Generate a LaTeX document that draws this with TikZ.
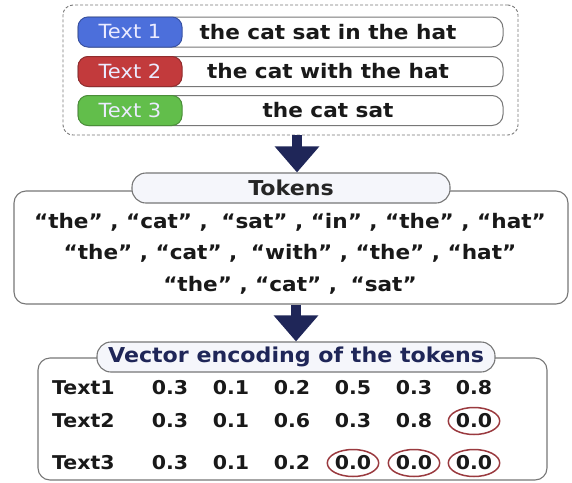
\documentclass[tikz,border=0pt]{standalone}
\usepackage{fontspec}
\setmainfont[FakeStretch=1.08]{DejaVu Sans}
\usetikzlibrary{arrows.meta,shapes.geometric}
\definecolor{navy}{HTML}{1F2658}
\definecolor{lblue}{HTML}{4C6FDB}
\definecolor{lred}{HTML}{C23A3C}
\definecolor{lgreen}{HTML}{62BE4B}
\definecolor{edgec}{HTML}{777777}
\definecolor{circc}{HTML}{9A3A3F}
\definecolor{pillfill}{HTML}{F5F6FB}
\tikzset{
  rowpill/.style={draw=edgec, line width=1pt, fill=white, rounded corners=11pt, minimum width=425pt, minimum height=30pt, inner sep=0pt},
  lab/.style={line width=1pt, rounded corners=10pt, minimum width=104pt, minimum height=30pt, inner sep=0pt, text=white!92!blue, font=\fontsize{19.5}{22}\selectfont},
  rowtxt/.style={font=\fontsize{20}{24}\selectfont\bfseries, text=black!90, inner sep=0pt},
  bigbox/.style={draw=edgec, line width=1.1pt, fill=white, rounded corners=12pt, inner sep=0pt},
  headpill/.style={draw=edgec, line width=1.1pt, fill=pillfill, rounded corners=14pt, minimum height=30pt, inner sep=0pt, text=navy, font=\fontsize{20.5}{24}\selectfont\bfseries},
  tokline/.style={font=\fontsize{20}{24}\selectfont\bfseries, text=black!90, inner sep=0pt},
  cell/.style={font=\fontsize{19}{22}\selectfont\bfseries, text=black!90, inner sep=0pt},
  zero/.style={cell, ellipse, draw=circc, line width=1.5pt, minimum width=51pt, minimum height=27pt},
  bigarrow/.style={draw=navy, line width=10pt, -{Triangle[width=43pt,length=26pt]}}
}
\begin{document}
\begin{tikzpicture}[x=1pt,y=-1pt]
\useasboundingbox (0,0) rectangle (572,482);
% top dashed group
\node[draw=edgec, line width=0.9pt, dash pattern=on 3pt off 2pt, rounded corners=10pt, minimum width=455pt, minimum height=130pt, inner sep=0pt] (top) at (290.5,70) {};
\node[rowpill] (p1) at (290.5,32) {};
\node[rowpill] (p2) at (290.5,71.5) {};
\node[rowpill] (p3) at (290.5,110.5) {};
\node[lab, fill=lblue, draw=lblue!75!black] (l1) at (130,32) {Text 1};
\node[lab, fill=lred, draw=lred!75!black] (l2) at (130,71.5) {Text 2};
\node[lab, fill=lgreen, draw=lgreen!75!black] (l3) at (130,110.5) {Text 3};
\node[rowtxt] (t1) at (328,32) {the cat sat in the hat};
\node[rowtxt] (t2) at (328,71.5) {the cat with the hat};
\node[rowtxt] (t3) at (328,110.5) {the cat sat};
% tokens
\node[bigbox, minimum width=554pt, minimum height=113pt] (tokbox) at (291,247.5) {};
\node[headpill, minimum width=318pt, text=black!85] (tokpill) at (291,188) {Tokens};
\node[tokline] (k1) at (290,222) {“the” , “cat” ,\hspace{6pt} “sat” , “in” , “the” , “hat”};
\node[tokline] (k2) at (290,253) {“the” , “cat” ,\hspace{6pt} “with” , “the” , “hat”};
\node[tokline] (k3) at (290,285) {“the” , “cat” ,\hspace{6pt} “sat”};
\draw[bigarrow] ([xshift=6.5pt]top.south) -- ([xshift=6.5pt]top.south |- tokpill.north);
% vector encoding
\node[bigbox, minimum width=509pt, minimum height=122pt] (vecbox) at (292.5,419) {};
\node[headpill, minimum width=398pt] (vecpill) at (296,357) {Vector encoding of the tokens};
\draw[bigarrow] ([xshift=5pt]tokbox.south) -- ([xshift=5pt]tokbox.south |- vecpill.north);
% rows
\node[cell, anchor=west] (r1) at (52,388) {Text1};
\node[cell, anchor=west] (r2) at (52,421) {Text2};
\node[cell, anchor=west] (r3) at (52,463) {Text3};
\node[cell] (a1) at (170,388) {0.3};
\node[cell] (a2) at (231,388) {0.1};
\node[cell] (a3) at (292,388) {0.2};
\node[cell] (a4) at (353,388) {0.5};
\node[cell] (a5) at (414,388) {0.3};
\node[cell] (a6) at (474,388) {0.8};
\node[cell] (b1) at (170,421) {0.3};
\node[cell] (b2) at (231,421) {0.1};
\node[cell] (b3) at (292,421) {0.6};
\node[cell] (b4) at (353,421) {0.3};
\node[cell] (b5) at (414,421) {0.8};
\node[zero] (b6) at (474,421) {0.0};
\node[cell] (c1) at (170,463) {0.3};
\node[cell] (c2) at (231,463) {0.1};
\node[cell] (c3) at (292,463) {0.2};
\node[zero] (c4) at (353,463) {0.0};
\node[zero] (c5) at (414,463) {0.0};
\node[zero] (c6) at (474,463) {0.0};
\end{tikzpicture}
\end{document}
